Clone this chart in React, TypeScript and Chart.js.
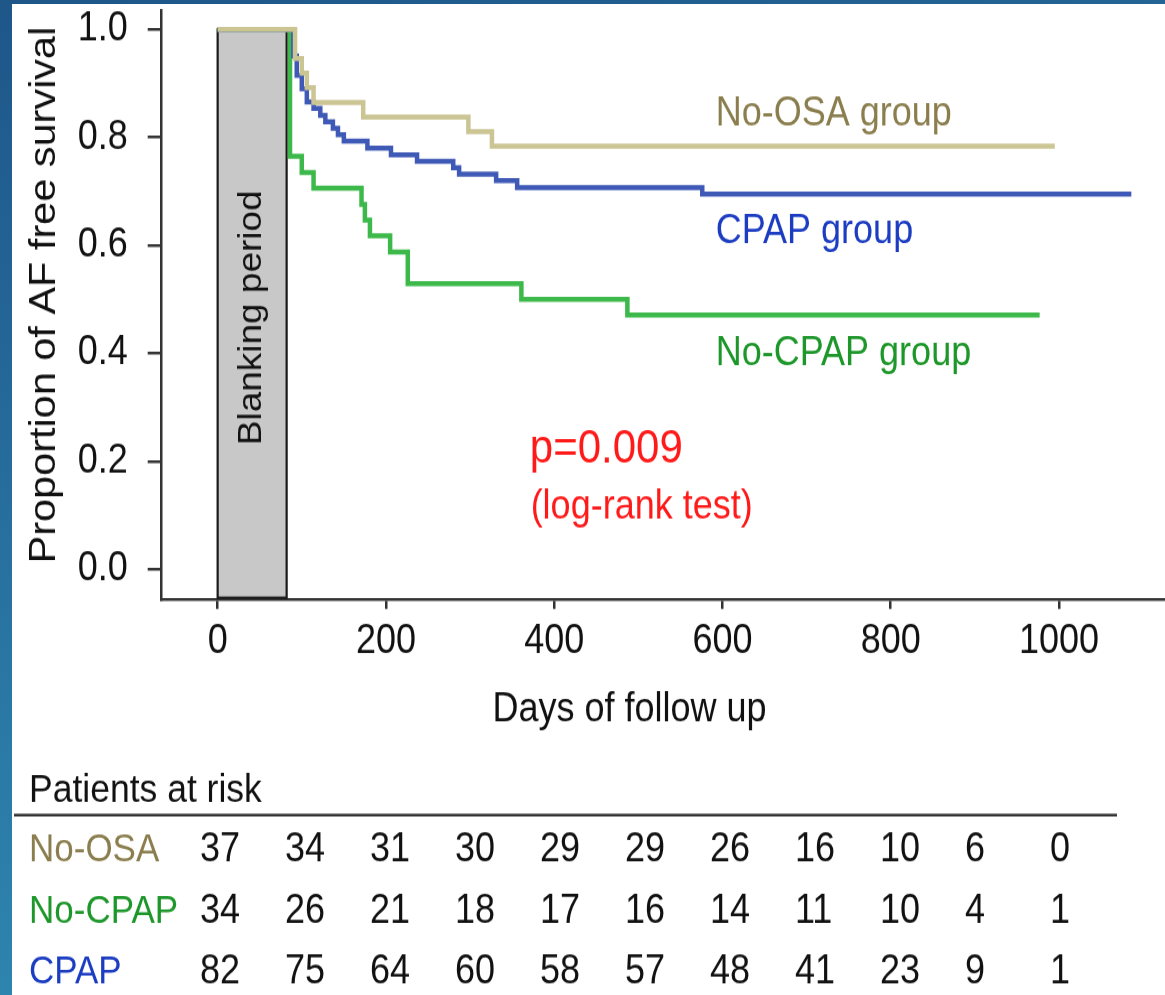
import React, { useEffect, useRef } from 'react';
import { Chart, registerables } from 'chart.js';

Chart.register(...registerables);

const FONT = '"Liberation Sans", Arial, Helvetica, sans-serif';
const STRETCH = 1.12;
const W = 1165;
const H = 888;

// ---- Kaplan-Meier curves (days of follow up, proportion AF free) ----
const noOsaDays = [0, 92, 100, 106, 114, 173, 298, 326, 995];
const noOsaSurv = [1, 0.946, 0.919, 0.892, 0.865, 0.838, 0.811, 0.784, 0.784];

const cpapDays = [0, 90, 94, 100, 106, 114, 122, 128, 137, 143, 150, 178, 206, 237, 280, 287, 331, 356, 576, 1086];
const cpapSurv = [1, 0.951, 0.915, 0.89, 0.866, 0.854, 0.841, 0.829, 0.817, 0.805, 0.793, 0.78, 0.768, 0.756, 0.744, 0.732, 0.72, 0.707, 0.695, 0.695];

const noCpapDays = [0, 86, 100, 114, 171, 175, 181, 205, 226, 361, 487, 977];
const noCpapSurv = [1, 0.765, 0.735, 0.706, 0.676, 0.647, 0.618, 0.588, 0.529, 0.5, 0.471, 0.471];

// ---- axes ----
const xTicks = [0, 200, 400, 600, 800, 1000];
const yTicks = [0, 0.2, 0.4, 0.6, 0.8, 1.0];
const blankingStart = 0;
const blankingEnd = 82;

// ---- patients at risk table ----
const riskLabels = ['No-OSA', 'No-CPAP', 'CPAP'];
const riskNoOsa = [37, 34, 31, 30, 29, 29, 26, 16, 10, 6, 0];
const riskNoCpap = [34, 26, 21, 18, 17, 16, 14, 11, 10, 4, 1];
const riskCpap = [82, 75, 64, 60, 58, 57, 48, 41, 23, 9, 1];

const C = {
  noOsaLine: '#cbc493',
  cpapLine: '#3f59b6',
  noCpapLine: '#3cb94a',
  noOsaText: '#8b7e4e',
  cpapText: '#1c3dc2',
  noCpapText: '#1d962a',
  red: '#ff1a1a',
  axis: '#333333',
  text: '#111111',
};

export default function App() {
  const ref = useRef<HTMLCanvasElement>(null);

  useEffect(() => {
    const canvas = ref.current!;
    const pts = (xs: number[], ys: number[]) => xs.map((d, i) => ({ x: d, y: ys[i] }));

    const plugin = {
      id: 'kmDecor',
      beforeDatasetsDraw(chart: any) {
        const { ctx, chartArea } = chart;
        const xs = chart.scales.x;
        const ys = chart.scales.y;
        const x0 = xs.getPixelForValue(blankingStart);
        const x1 = xs.getPixelForValue(blankingEnd);
        const yTop = ys.getPixelForValue(1.0);
        const yBot = chartArea.bottom - 2;
        ctx.save();
        ctx.fillStyle = '#c8c8c8';
        ctx.fillRect(x0, yTop, x1 - x0, yBot - yTop);
        ctx.strokeStyle = '#1a1a1a';
        ctx.lineWidth = 2.2;
        ctx.strokeRect(x0, yTop, x1 - x0, yBot - yTop);
        ctx.translate(xs.getPixelForValue(51.5), ys.getPixelForValue(0.466));
        ctx.rotate(-Math.PI / 2);
        ctx.font = `33px ${FONT}`;
        ctx.fillStyle = C.text;
        ctx.textAlign = 'center';
        ctx.textBaseline = 'alphabetic';
        ctx.fillText('Blanking period', 0, 0);
        ctx.restore();
      },
      afterDraw(chart: any) {
        const { ctx } = chart;
        const xs = chart.scales.x;
        const ys = chart.scales.y;
        ctx.save();
        ctx.textBaseline = 'alphabetic';

        // y title
        ctx.save();
        ctx.translate(55, 263.4);
        ctx.rotate(-Math.PI / 2);
        ctx.font = `37px ${FONT}`;
        ctx.fillStyle = C.text;
        ctx.textAlign = 'center';
        ctx.fillText('Proportion of AF free survival', 0, 0);
        ctx.restore();

        // x title
        ctx.font = `36px ${FONT}`;
        ctx.fillStyle = C.text;
        ctx.textAlign = 'center';
        ctx.fillText('Days of follow up', 629.5, 644.4);

        // series labels
        ctx.textAlign = 'left';
        const labels = [
          { t: 'No-OSA group', c: C.noOsaText, x: 592, y: 0.823 },
          { t: 'CPAP group', c: C.cpapText, x: 592, y: 0.604 },
          { t: 'No-CPAP group', c: C.noCpapText, x: 592, y: 0.378 },
        ];
        ctx.font = `36px ${FONT}`;
        for (const l of labels) {
          ctx.fillStyle = l.c;
          ctx.fillText(l.t, xs.getPixelForValue(l.x), ys.getPixelForValue(l.y));
        }
        ctx.fillStyle = C.red;
        ctx.font = `42px ${FONT}`;
        ctx.fillText('p=0.009', xs.getPixelForValue(371), ys.getPixelForValue(0.197));
        ctx.font = `36px ${FONT}`;
        ctx.fillText('(log-rank test)', xs.getPixelForValue(372), ys.getPixelForValue(0.095));

        // patients at risk table
        ctx.fillStyle = C.text;
        ctx.font = `35.5px ${FONT}`;
        ctx.fillText('Patients at risk', 29, 715.8);
        ctx.strokeStyle = C.axis;
        ctx.lineWidth = 2.5;
        ctx.beginPath();
        ctx.moveTo(14, 727.7);
        ctx.lineTo(1117, 727.7);
        ctx.stroke();
        const rows = [riskNoOsa, riskNoCpap, riskCpap];
        const rowColors = [C.noOsaText, C.noCpapText, C.cpapText];
        const rowY = [769.4, 824.4, 877.9];
        rows.forEach((vals, r) => {
          ctx.font = `35px ${FONT}`;
          ctx.fillStyle = rowColors[r];
          ctx.fillText(riskLabels[r], 29, rowY[r]);
          ctx.font = `36px ${FONT}`;
          ctx.fillStyle = C.text;
          vals.forEach((v, k) => ctx.fillText(String(v), 200 + 85 * k, rowY[r]));
        });
        ctx.restore();
      },
    };

    const lineDs = (label: string, data: any[], color: string) => ({
      label,
      data,
      borderColor: color,
      backgroundColor: color,
      borderWidth: 4.5,
      stepped: true,
      pointRadius: 0,
      fill: false,
    });

    const chart = new Chart(canvas, {
      type: 'line',
      data: {
        datasets: [
          lineDs('No-OSA group', pts(noOsaDays, noOsaSurv), C.noOsaLine),
          lineDs('CPAP group', pts(cpapDays, cpapSurv), C.cpapLine),
          lineDs('No-CPAP group', pts(noCpapDays, noCpapSurv), C.noCpapLine),
        ],
      },
      options: {
        responsive: false,
        animation: false,
        events: [],
        layout: { padding: { top: 9, left: 0, right: 0, bottom: 0 } },
        plugins: { legend: { display: false }, tooltip: { enabled: false }, title: { display: false } },
        scales: {
          x: {
            type: 'linear',
            min: -66.5,
            max: 1126,
            afterBuildTicks: (s: any) => {
              s.ticks = xTicks.map((v) => ({ value: v }));
            },
            afterFit: (s: any) => {
              s.height = H - 535.7;
              s.paddingLeft = 0;
              s.paddingRight = 0;
            },
            grid: { drawOnChartArea: false, drawTicks: true, tickLength: 8, color: C.axis, lineWidth: 2.5 },
            border: { display: true, color: C.axis, width: 2.5 },
            ticks: {
              font: { family: FONT, size: 36 },
              color: C.text,
              padding: 8,
              maxRotation: 0,
              autoSkip: false,
              callback: (v: any) => String(v),
            },
          },
          y: {
            type: 'linear',
            min: -0.0568,
            max: 1.0359,
            afterBuildTicks: (s: any) => {
              s.ticks = yTicks.map((v) => ({ value: v }));
            },
            afterFit: (s: any) => {
              s.width = 161.7;
              s.paddingTop = 0;
              s.paddingBottom = 0;
            },
            grid: { drawOnChartArea: false, drawTicks: true, tickLength: 14, color: C.axis, lineWidth: 2.5 },
            border: { display: true, color: C.axis, width: 2.5 },
            ticks: {
              font: { family: FONT, size: 36 },
              color: C.text,
              padding: 20,
              autoSkip: false,
              callback: (v: any) => Number(v).toFixed(1),
            },
          },
        },
      } as any,
      plugins: [plugin],
    });
    return () => chart.destroy();
  }, []);

  return (
    <div
      style={{
        position: 'absolute',
        left: 0,
        top: 0,
        width: W,
        height: 995,
        overflow: 'hidden',
        background: 'linear-gradient(165deg, #1e5688 0%, #2a78a6 55%, #3192b8 100%)',
      }}
    >
      <div style={{ position: 'absolute', left: 12, top: 4, right: 0, bottom: 0, background: '#ffffff' }} />
      <div
        style={{
          position: 'absolute',
          left: 0,
          top: 0,
          width: W,
          height: H,
          transform: `scaleY(${STRETCH})`,
          transformOrigin: '0 0',
        }}
      >
        <canvas ref={ref} width={W} height={H} />
      </div>
    </div>
  );
}
